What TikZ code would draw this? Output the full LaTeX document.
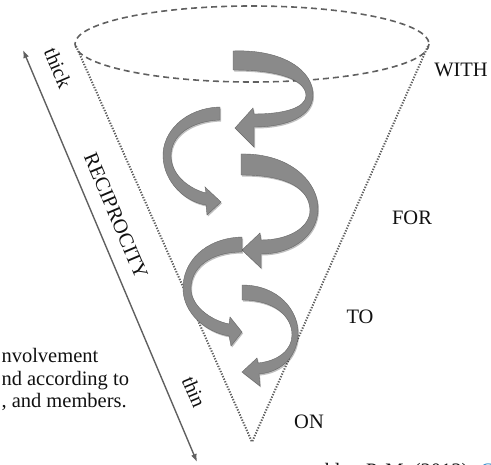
\documentclass[tikz,border=0pt]{standalone}
\usepackage{fontspec}
\setmainfont{Liberation Serif}
\usetikzlibrary{arrows.meta, shadows}
\definecolor{cCone}{HTML}{606060}
\definecolor{cRibbon}{HTML}{8A8A8A}
\definecolor{cText}{HTML}{111111}
\definecolor{cLink}{HTML}{2A86C8}

\begin{document}
\begin{tikzpicture}[
    x=1bp, y=-1bp, font=\fontsize{20.5bp}{24bp}\selectfont,
    rim/.style={draw=cCone, line width=1.6pt, dash pattern=on 6bp off 4bp},
    coneside/.style={draw=cCone, line width=2pt, dash pattern=on 1.3bp off 1.5bp},
    ribbon/.style={fill=cRibbon, draw=cRibbon!75!black, line width=0.4pt,
        drop shadow={shadow xshift=1bp, shadow yshift=-1.5bp, opacity=0.25, fill=black}},
    lvl/.style={text=cText},
    rot/.style={text=cText, rotate=-67},
    recip/.style={{Latex[length=8bp,width=6bp]}-{Latex[length=8bp,width=6bp]},
        draw=cCone, line width=1.4pt},
]
\useasboundingbox (0,0) rectangle (491,465);

% ===================== Cone =====================
\coordinate (apex) at (252,442);
\coordinate (rimL) at (76,46);
\coordinate (rimR) at (428,46);
\draw[rim] (252,44) ellipse [x radius=177, y radius=38];
\draw[coneside] (rimL) -- (apex);
\draw[coneside] (rimR) -- (apex);

% ===================== Spiral ribbons =====================
% WITH level, turning right
\draw[ribbon] (233,51) .. controls (282,49) and (314,70) .. (313,96)
      .. controls (312,116) and (288,127) .. (254,127)
      -- (254,147) -- (235,128) -- (253,108) -- (254,114)
      .. controls (284,114) and (305,108) .. (306,96)
      .. controls (306,80) and (280,70) .. (233,70) -- cycle;
% turning left
\draw[ribbon] (220,107) .. controls (185,108) and (162,132) .. (163,157)
      .. controls (164,182) and (185,202) .. (206,205)
      -- (207,215) -- (221,202) -- (205,187) -- (206,193)
      .. controls (190,189) and (172,176) .. (171,157)
      .. controls (170,135) and (192,121) .. (220,120) -- cycle;
% FOR level, turning right
\draw[ribbon] (241,154) .. controls (290,153) and (319,182) .. (318,210)
      .. controls (317,236) and (292,254) .. (261,254)
      -- (261,268) -- (242,250) -- (260,233) -- (261,240)
      .. controls (288,240) and (310,228) .. (310,210)
      .. controls (309,190) and (290,175) .. (241,175) -- cycle;
% turning left
\draw[ribbon] (242,237) .. controls (205,238) and (182,262) .. (183,290)
      .. controls (184,313) and (205,332) .. (229,336)
      -- (231,346) -- (242,332) -- (230,317) -- (229,324)
      .. controls (210,320) and (192,306) .. (191,290)
      .. controls (190,268) and (210,252) .. (242,252) -- cycle;
% TO level, turning right
\draw[ribbon] (242,285) .. controls (278,285) and (299,310) .. (298,335)
      .. controls (297,356) and (282,372) .. (259,374)
      -- (260,386) -- (242,372) -- (257,358) -- (258,363)
      .. controls (278,361) and (292,350) .. (292,335)
      .. controls (292,316) and (274,300) .. (242,300) -- cycle;

% ===================== Levels =====================
\node[lvl] (with) at (461,70) {WITH};
\node[lvl] (for) at (412,218) {FOR};
\node[lvl] (to) at (360,317) {TO};
\node[lvl] (on) at (309,422) {ON};

% ===================== Reciprocity axis =====================
\coordinate (thickEnd) at (23,50);
\coordinate (thinEnd) at (197,462);
\draw[recip] (thickEnd) -- (thinEnd);
\node[rot] (thick) at (58,68) {thick};
\node[rot] (reciprocity) at (116,216) {RECIPROCITY};
\node[rot] (thin) at (194,392) {thin};

% ===================== Cut-off caption text =====================
\begin{scope}
\clip (0,0) rectangle (491,465);
\node[lvl, anchor=base west] (capA) at (-2,362) {nvolvement};
\node[lvl, anchor=base west] (capB) at (-2,385) {nd according to};
\node[lvl, anchor=base west] (capC) at (-2,407) {, and members.};
\node[lvl, anchor=base west] (cite) at (303,477)
      {ackler, P. M. (2013). \textcolor{cLink}{Commun}};
\end{scope}

\end{tikzpicture}
\end{document}
